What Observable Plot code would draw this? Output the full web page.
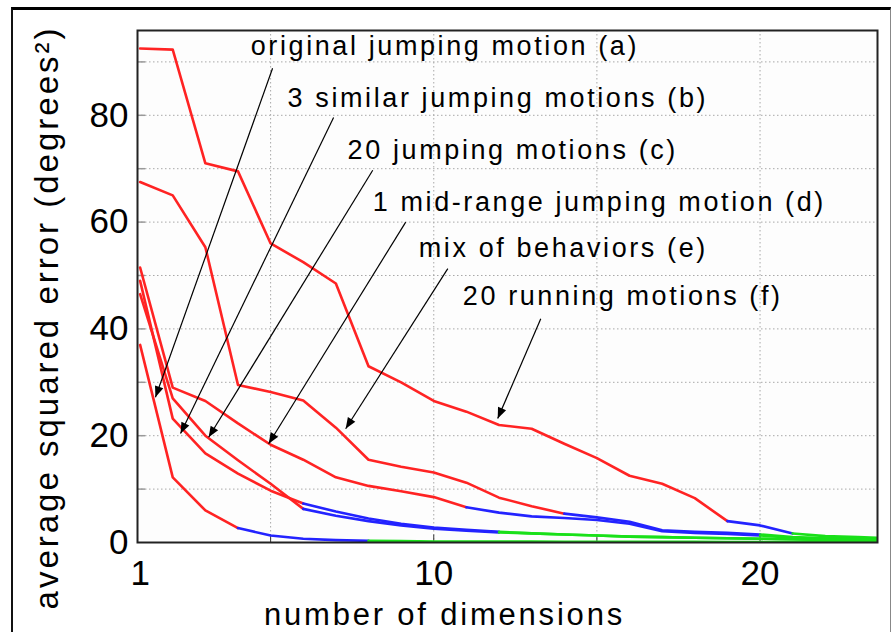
<!DOCTYPE html>
<html>
<head>
<meta charset="utf-8">
<script src="https://cdn.jsdelivr.net/npm/d3@7"></script>
<script src="https://cdn.jsdelivr.net/npm/@observablehq/plot@0.6"></script>
<style>
html,body{margin:0;padding:0;background:#fff;}
#wrap{position:relative;width:896px;height:632px;overflow:hidden;}
#chart{position:absolute;left:0;top:0;}
#frame{position:absolute;left:11px;top:7px;width:877px;height:700px;border-top:3px solid #000;border-left:2px solid #111;border-right:1px solid #888;pointer-events:none;}
</style>
</head>
<body>
<div id="wrap"><div id="chart"></div><div id="frame"></div></div>
<script>
// ---- data ----
const dimensions = [1,2,3,4,5,6,7,8,9,10,11,12,13,14,15,16,17,18,19,20,21,22,23,24];

const errRunning20   = [92.5,92.3,71,69.5,56,52.5,48.5,33,30,26.5,24.5,22,21.3,18.5,15.8,12.5,11,8.3,4.0,3.2,1.7,1.2,1.0,0.8];
const errMix         = [67.5,65,55.3,29.5,28.2,26.6,21.5,15.5,14.2,13.1,11.2,8.4,6.8,5.4,4.7,3.9,2.3,2.0,1.8,1.5,1.0,0.8,0.7,0.6];
const errMidRange    = [51.5,29,26.5,22.3,18.3,15.5,12.2,10.6,9.6,8.5,6.6,5.6,4.9,4.6,4.2,3.5,2.1,1.8,1.6,1.3,0.9,0.8,0.7,0.6];
const errSimilar3    = [49,23.2,16.7,12.9,9.7,7.3,5.8,4.5,3.5,2.8,2.4,2.0,1.7,1.5,1.3,1.1,1.0,0.9,0.8,0.7,0.6,0.5,0.5,0.4];
const errJumping20   = [46.5,27,20,15.4,11,6.3,5.0,4.0,3.2,2.6,2.2,1.9,1.7,1.5,1.3,1.1,1.0,0.9,0.8,0.7,0.6,0.5,0.5,0.4];
const errOriginal    = [37,12.2,6.0,2.7,1.3,0.7,0.45,0.3,0.25,0.2,0.2,0.18,0.16,0.15,0.14,0.13,0.12,0.11,0.1,0.1,0.1,0.1,0.1,0.1];

// dimension at which each curve switches from red to blue, and from blue to green
const curveNames   = ["running20","mix","midRange","similar3","jumping20","original"];
const curveValues  = [errRunning20, errMix, errMidRange, errSimilar3, errJumping20, errOriginal];
const blueFrom     = [19, 14, 11, 6, 6, 4];
const greenFrom    = [21, 20, 20, 12, 12, 8];

// annotations
const labels   = ["original jumping motion (a)","3 similar jumping motions (b)","20 jumping motions (c)","1 mid-range jumping motion (d)","mix of behaviors (e)","20 running motions (f)"];
const labelX   = [4.39, 5.52, 7.36, 8.13, 9.54, 10.89];
const labelY   = [91.2, 81.5, 71.9, 62.0, 53.4, 44.4];
const arrowX1  = [5.06, 6.93, 8.13, 9.14, 10.43, 13.28];
const arrowY1  = [88.8, 79.6, 69.7, 60.0, 51.3, 41.9];
const arrowX2  = [1.47, 2.24, 3.10, 4.94, 7.30, 11.96];
const arrowY2  = [27.2, 20.4, 19.7, 18.5, 21.3, 23.2];

const xTicks = [1, 10, 20];
const xGrid  = [5, 10, 15, 20];
const yTicks = [0, 20, 40, 60, 80];
const yGrid  = [10, 20, 30, 40, 50, 60, 70, 80, 90];

const xTitle = "number of dimensions";
const yTitle = "average squared error (degrees²)";

// ---- build tables ----
const rows = [];
curveNames.forEach((name, c) => {
  const vals = curveValues[c];
  dimensions.forEach((d, i) => {
    const y = vals[i];
    if (d <= blueFrom[c]) rows.push({key: name + "-1", seg: "stage1", x: d, y});
    if (d >= blueFrom[c] && d <= greenFrom[c]) rows.push({key: name + "-2", seg: "stage2", x: d, y});
    if (d >= greenFrom[c]) rows.push({key: name + "-3", seg: "stage3", x: d, y});
  });
});
const notes = labels.map((t, i) => ({t, x: labelX[i], y: labelY[i]}));
const arrows = labels.map((t, i) => ({x1: arrowX1[i], y1: arrowY1[i], x2: arrowX2[i], y2: arrowY2[i]}));

function filledHead(color) {
  const ns = "http://www.w3.org/2000/svg";
  const m = document.createElementNS(ns, "marker");
  m.setAttribute("viewBox", "-10 -5 10 10");
  m.setAttribute("markerWidth", 14);
  m.setAttribute("markerHeight", 11);
  m.setAttribute("markerUnits", "userSpaceOnUse");
  m.setAttribute("orient", "auto");
  m.setAttribute("refX", 0);
  m.setAttribute("refY", 0);
  const p = document.createElementNS(ns, "path");
  p.setAttribute("d", "M-10,-4L0,0L-10,4Z");
  p.setAttribute("fill", "#000");
  p.setAttribute("stroke", "none");
  m.appendChild(p);
  return m;
}

let arrowMark;
try {
  arrowMark = Plot.link(arrows, {x1: "x1", y1: "y1", x2: "x2", y2: "y2", stroke: "#000", strokeWidth: 1.2, markerEnd: filledHead});
} catch (e) {
  arrowMark = Plot.arrow(arrows, {x1: "x1", y1: "y1", x2: "x2", y2: "y2", stroke: "#000", strokeWidth: 1.2, headLength: 12});
}

const font = "'Liberation Sans', Arial, Helvetica, sans-serif";

const svg = Plot.plot({
  width: 896,
  height: 632,
  marginLeft: 137,
  marginRight: 19,
  marginTop: 30,
  marginBottom: 90,
  style: {fontFamily: font, fontSize: "35px", background: "transparent", color: "#000"},
  x: {domain: [0.92, 23.6], ticks: xTicks, tickFormat: d => String(d), tickSize: 0, tickPadding: 18, label: null},
  y: {domain: [0, 95.88], ticks: yTicks, tickFormat: d => String(d), tickSize: 0, tickPadding: 9, label: null},
  color: {domain: ["stage1", "stage2", "stage3"], range: ["#ff2323", "#2323ff", "#19e019"]},
  marks: [
    Plot.frame({fill: "#fdfdfd", stroke: null}),
    Plot.ruleY(yGrid, {stroke: "#a8a8a8", strokeWidth: 1, strokeDasharray: "1.5,2.5"}),
    Plot.ruleX(xGrid, {stroke: "#a8a8a8", strokeWidth: 1, strokeDasharray: "1.5,2.5"}),
    Plot.ruleY(yGrid, {x1: 0.92, x2: 1.17, stroke: "#999", strokeWidth: 1.5}),
    Plot.ruleX(xGrid, {y1: 0, y2: 1.4, stroke: "#333", strokeWidth: 1}),
    Plot.line(rows, {x: "x", y: "y", z: "key", stroke: "seg", strokeWidth: 2.6, clip: true}),
    arrowMark,
    Plot.text(notes, {x: "x", y: "y", text: "t", textAnchor: "start", lineAnchor: "bottom", fontSize: 27, fill: "#000"}),
    Plot.text([yTitle], {frameAnchor: "left", textAnchor: "middle", lineAnchor: "middle", rotate: -90, dx: -90, dy: 31, fontSize: 33, fill: "#000"}),
    Plot.text([xTitle], {frameAnchor: "bottom", textAnchor: "middle", dx: -63, dy: 82, lineAnchor: "bottom", fontSize: 31, fill: "#000"}),
    Plot.frame({stroke: "#222", strokeWidth: 2})
  ]
});

document.getElementById("chart").appendChild(svg);

// wide screen-font spacing of the original figure
const spacing = new Map([...labels.map(l => [l, "2.6px"]), [xTitle, "2.8px"], [yTitle, "3px"]]);
d3.select(svg).selectAll("text").each(function () {
  const s = spacing.get(this.textContent);
  if (s) this.style.letterSpacing = s;
});
</script>
</body>
</html>
